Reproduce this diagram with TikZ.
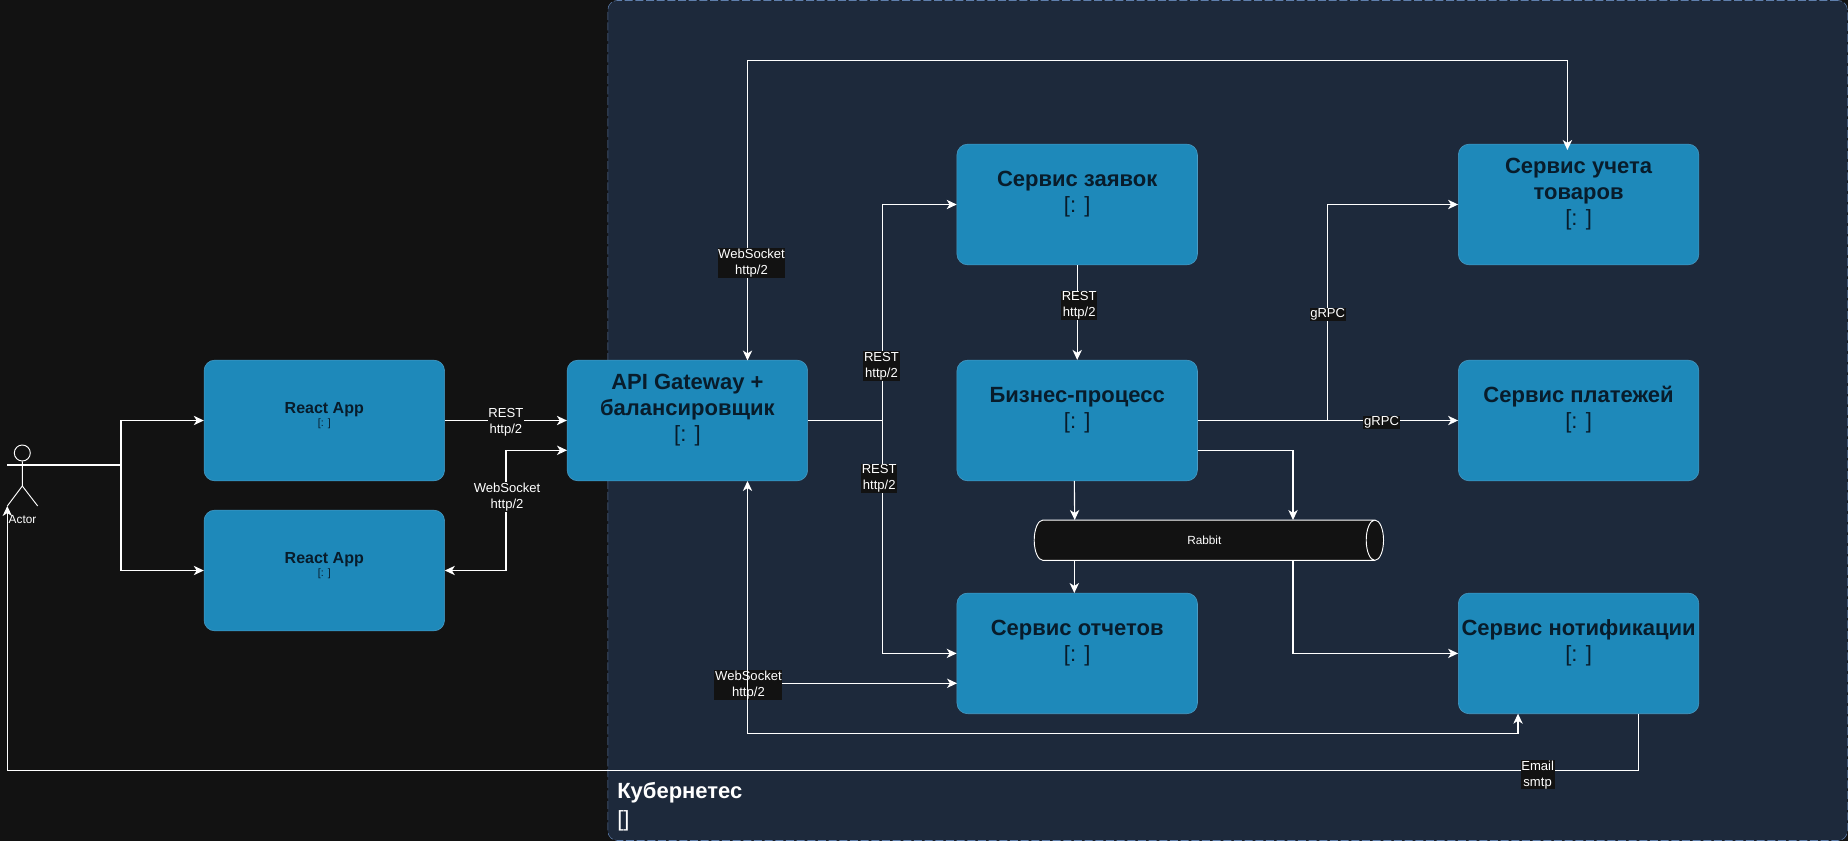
\documentclass[tikz,border=0pt]{standalone}
\usepackage{fontspec}
\setmainfont{Liberation Sans}
\usetikzlibrary{arrows.meta,shapes.geometric}
\definecolor{pagebg}{HTML}{121212}
\definecolor{kubefill}{HTML}{1D293B}
\definecolor{kubeline}{HTML}{5F7FAD}
\definecolor{svcfill}{HTML}{1E89BA}
\definecolor{svcline}{HTML}{4A9CC6}
\definecolor{svctext}{HTML}{081C2B}
\tikzset{
  svc/.style={draw=svcline,fill=svcfill,rounded corners=8pt,minimum width=180.4pt,minimum height=90.5pt,
    align=center,inner sep=0pt,text=svctext,font=\fontsize{16.5}{19.5}\selectfont},
  webapp/.style={svc,font=\fontsize{12}{14}\selectfont},
  proto/.style={fill=pagebg,text=white,align=center,inner sep=0.5pt,yshift=-1.3pt,font=\fontsize{9.8}{12}\selectfont},
  wire/.style={draw=white,line width=0.85pt},
}
\begin{document}
\begin{tikzpicture}[x=0.75pt,y=-0.75pt,>={Stealth[length=7.5pt,width=7pt,inset=2.2pt]}]
	\useasboundingbox (0,0) rectangle (1848,841);
	\fill[pagebg] (0,0) rectangle (1848,841);
	% kubernetes boundary
	\node[draw=kubeline,fill=kubefill,dashed,dash pattern=on 6pt off 2pt,rounded corners=7pt,minimum width=929.6pt,minimum height=630pt,inner sep=0pt] (kube) at (1227.6,420.5) {};
	\node[text=white,anchor=west,inner sep=0pt,font=\bfseries\fontsize{16.5}{19.5}\selectfont] (kubename) at (617,793) {Кубернетес};
	\node[text=white,anchor=west,inner sep=0pt,font=\fontsize{16.5}{19.5}\selectfont] (kubetech) at (617,821) {[]};
	% services
	\node[webapp] (reactA) at (324.3,420.5) {\textbf{React App}\\[-4.2pt]{\fontsize{8}{9}\selectfont [: ]}\\[-5.5pt]~};
	\node[webapp] (reactB) at (324.3,570.5) {\textbf{React App}\\[-4.2pt]{\fontsize{8}{9}\selectfont [: ]}\\[-5.5pt]~};
	\node[svc] (gateway) at (687.4,420.5) {\textbf{API Gateway +}\\\textbf{балансировщик}\\{}[: ]\\~};
	\node[svc] (orders) at (1077.2,204.5) {\textbf{Сервис заявок}\\{}[: ]\\~};
	\node[svc] (process) at (1077.2,420.5) {\textbf{Бизнес-процесс}\\{}[: ]\\~};
	\node[svc] (reports) at (1077.2,653.4) {\textbf{Сервис отчетов}\\{}[: ]\\~};
	\node[svc] (stock) at (1578.6,204.5) {\textbf{Сервис учета}\\\textbf{товаров}\\{}[: ]\\~};
	\node[svc] (payments) at (1578.6,420.5) {\textbf{Сервис платежей}\\{}[: ]\\~};
	\node[svc] (notify) at (1578.6,653.4) {\textbf{Сервис нотификации}\\{}[: ]\\~};
	\node[cylinder,draw=white,fill=pagebg,text=white,line width=0.7pt,shape aspect=2,minimum height=262pt,minimum width=30.2pt,inner sep=0pt,font=\fontsize{8.85}{10}\selectfont] (rabbit) at (1204.3,540.2) {Rabbit};
	% actor
	\node[draw=white,circle,minimum size=12pt,inner sep=0pt,line width=0.7pt] (head) at (22.3,453) {};
	\coordinate (hip) at (22.3,486);
	\coordinate (footL) at (7.3,506);
	\coordinate (footR) at (37.7,506);
	\draw[white,line width=0.7pt] (head) -- (hip) -- (footL);
	\draw[white,line width=0.7pt] (hip) -- (footR);
	\node[text=white,inner sep=0pt,font=\fontsize{8.85}{10}\selectfont] (actorname) at (22.5,519) {Actor};
	% attach points
	\coordinate (shoulderL) at (7.3,465);
	\coordinate (split) at (121,465);
	\coordinate (gateIn) at (567,450.3);
	\coordinate (wsUp) at (506,450.3);
	\coordinate (bus) at (882.4,420.5);
	\coordinate (gateTop) at (747.5,360.5);
	\coordinate (gateBot) at (747.5,481);
	\coordinate (corner) at (747.5,60.4);
	\coordinate (stockTop) at (1567.4,150);
	\coordinate (branch) at (747.5,683.3);
	\coordinate (reportsIn) at (957,683.3);
	\coordinate (notifyIn) at (1518,713.7);
	\coordinate (lowLeft) at (747.5,733.3);
	\coordinate (notifyOut) at (1638.4,713.7);
	\coordinate (mailCorner) at (1638.4,770.3);
	\coordinate (mailEnd) at (7.3,770.3);
	\coordinate (actorIn) at (7.3,506);
	\coordinate (grpcUp) at (1327.7,420.5);
	\coordinate (procLow) at (1197.5,450.3);
	\coordinate (rabbitA) at (1293,520);
	\coordinate (rabbitB) at (1293,560.3);
	\coordinate (procOut) at (1074.3,481);
	\coordinate (rabbitIn) at (1074.7,520);
	\coordinate (rabbitOut) at (1074.3,560.3);
	\coordinate (reportsTop) at (1074.3,593);
	% connectors
	\draw[wire] (shoulderL) -- (split);
	\draw[wire,->] (split) |- (reactA.west);
	\draw[wire,->] (split) |- (reactB.west);
	\draw[wire,->] (reactA.east) -- node[proto] {REST\\http/2} (gateway.west);
	\draw[wire,<->] (reactB.east) -| node[proto,pos=0.814,xshift=0.8pt] {WebSocket\\http/2} (wsUp) -- (gateIn);
	\draw[wire,->] (gateway.east) -- (bus) |- node[proto,pos=0.13,xshift=-0.7pt] {REST\\http/2} (orders.west);
	\draw[wire,->] (bus) |- node[proto,pos=0.1207,xshift=-2.4pt] {REST\\http/2} (reports.west);
	\draw[wire,<->] (gateTop) -- node[proto,pos=0.33,xshift=3pt] {WebSocket\\http/2} (corner) -| (stockTop);
	\draw[wire,->] (branch) -- node[proto,pos=0,xshift=0.7pt] {WebSocket\\http/2} (reportsIn);
	\draw[wire,<->] (gateBot) -- (lowLeft) -| (notifyIn);
	\draw[wire,->] (orders.south) -- node[proto,pos=0.41,xshift=1.5pt] {REST\\http/2} (process.north);
	\draw[wire,->] (process.east) -- (grpcUp) |- node[proto,pos=0.25] {gRPC} (stock.west);
	\draw[wire,->] (process.east) -- node[proto,pos=0.706] {gRPC} (payments.west);
	\draw[wire,->] (procLow) -| (rabbitA);
	\draw[wire,->] (procOut) -- (rabbitIn);
	\draw[wire,->] (rabbitOut) -- (reportsTop);
	\draw[wire,->] (rabbitB) |- (notify.west);
	\draw[wire,->] (notifyOut) -- (mailCorner) -- node[proto,pos=0.0618,yshift=-2pt] {Email\\smtp} (mailEnd) -- (actorIn);
\end{tikzpicture}
\end{document}
